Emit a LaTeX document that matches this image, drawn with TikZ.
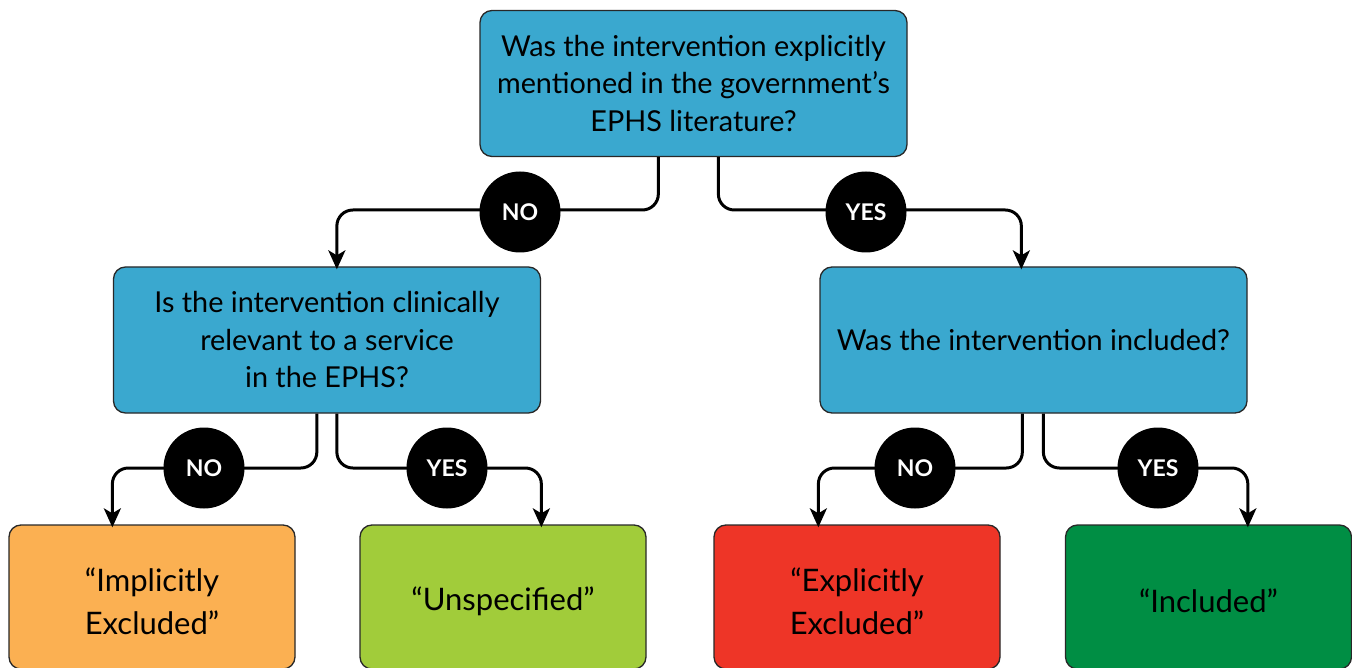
\documentclass[tikz,border=0pt]{standalone}
\usepackage{fontspec}
\setmainfont{Lato}
\usetikzlibrary{arrows.meta}
\definecolor{qblue}{RGB}{58,168,207}
\definecolor{qorange}{RGB}{251,176,82}
\definecolor{qlgreen}{RGB}{161,204,58}
\definecolor{qred}{RGB}{238,53,39}
\definecolor{qdgreen}{RGB}{0,142,68}
\definecolor{qedge}{RGB}{40,40,40}
\tikzset{
  qbox/.style={draw=qedge, line width=1.3pt, rounded corners=12pt, fill=qblue, align=center,
    minimum width=427pt, minimum height=146pt, inner sep=0pt,
    font=\fontsize{28.8}{37.5}\selectfont},
  obox/.style={draw=qedge, line width=1.3pt, rounded corners=12pt,
    minimum width=286pt, minimum height=144pt, inner sep=0pt},
  otext/.style={align=center, inner sep=0pt, yshift=-4pt,
    font=\fontsize{31}{43}\selectfont},
  badge/.style={circle, fill=black, text=white, minimum size=81pt, inner sep=0pt,
    font=\fontsize{23}{23}\selectfont\bfseries},
  conn/.style={line width=3pt, rounded corners=16pt, -{Stealth[length=19pt,width=17pt,inset=5pt]}},
}
\begin{document}
\begin{tikzpicture}[x=1pt,y=-1pt]
\useasboundingbox (0,0) rectangle (1352,668);
\node[qbox] (top) at (693.5,83.5) {Was the intervention explicitly\\mentioned in the government’s\\EPHS literature?};
\node[qbox] (mid1) at (327,340) {Is the intervention clinically\\relevant to a service\\in the EPHS?};
\node[qbox] (mid2) at (1033.5,340) {Was the intervention included?};
\node[obox, fill=qorange, label={[otext]center:{“Implicitly\\Excluded”}}] (out1) at (152,597) {};
\node[obox, fill=qlgreen, label={[otext]center:{“Unspecified”}}] (out2) at (503,597) {};
\node[obox, fill=qred, label={[otext]center:{“Explicitly\\Excluded”}}] (out3) at (857,597) {};
\node[obox, fill=qdgreen, label={[otext]center:{“Included”}}] (out4) at (1208.5,597) {};
% connectors
\draw[conn] ([xshift=179pt]top.south west) |- (520,210) -| ([xshift=224pt,yshift=-3pt]mid1.north west);
\draw[conn] ([xshift=239pt]top.south west) |- (866,210) -| ([xshift=202pt,yshift=-3pt]mid2.north west);
\draw[conn] ([xshift=204pt]mid1.south west) |- (204,468) -| ([xshift=104pt,yshift=-3pt]out1.north west);
\draw[conn] ([xshift=224pt]mid1.south west) |- (447,468) -| ([xshift=182pt,yshift=-3pt]out2.north west);
\draw[conn] ([xshift=203pt]mid2.south west) |- (915,468) -| ([xshift=105pt,yshift=-3pt]out3.north west);
\draw[conn] ([xshift=224pt]mid2.south west) |- (1158,468) -| ([xshift=183pt,yshift=-3pt]out4.north west);
% badges
\node[badge] (b1) at (520,212) {NO};
\node[badge] (b2) at (866,212) {YES};
\node[badge] (b3) at (204,468) {NO};
\node[badge] (b4) at (447,468) {YES};
\node[badge] (b5) at (915,468) {NO};
\node[badge] (b6) at (1158,468) {YES};
\end{tikzpicture}
\end{document}
